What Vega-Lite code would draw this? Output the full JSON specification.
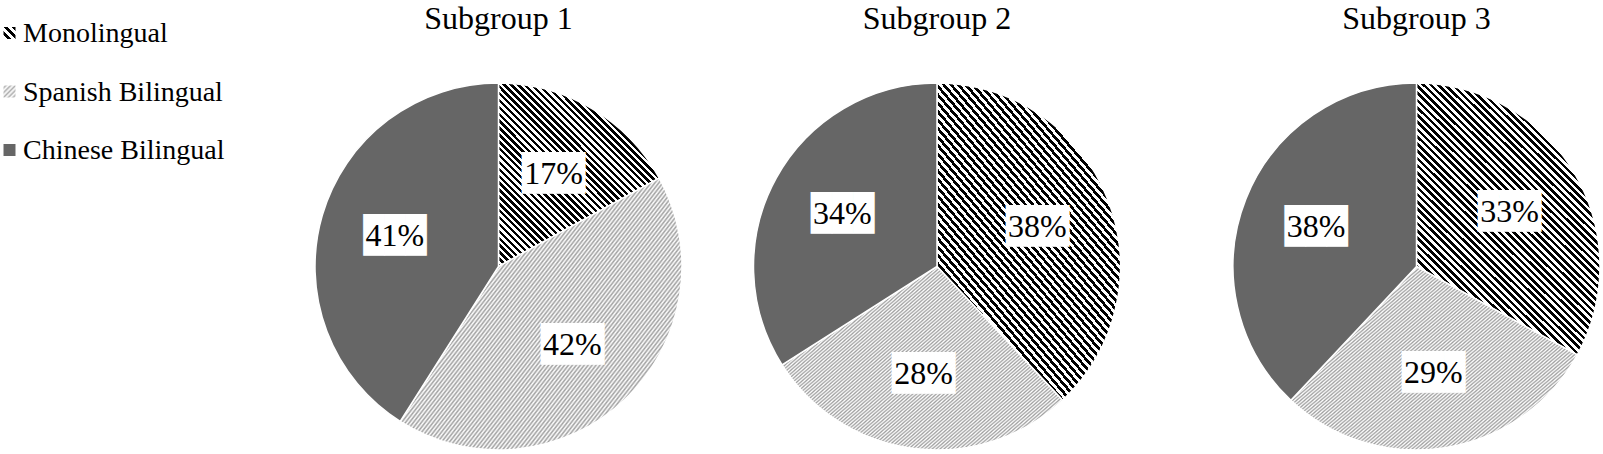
{
"$schema": "https://vega.github.io/schema/vega-lite/v6.json",
"padding": 0,
"background": "#ffffff",
"bounds": "flush",
"spacing": 334.5,
"params": [
{"name": "gM", "value": {"gradient": "linear", "x1": 0, "y1": 1, "x2": 0.77, "y2": -0.15, "stops": [
{"offset":0,"color":"#000"},
{"offset":0.008,"color":"#000"},{"offset":0.008,"color":"#fff"},{"offset":0.016,"color":"#fff"},{"offset":0.016,"color":"#000"},
{"offset":0.024,"color":"#000"},{"offset":0.024,"color":"#fff"},{"offset":0.032,"color":"#fff"},{"offset":0.032,"color":"#000"},
{"offset":0.04,"color":"#000"},{"offset":0.04,"color":"#fff"},{"offset":0.048,"color":"#fff"},{"offset":0.048,"color":"#000"},
{"offset":0.056,"color":"#000"},{"offset":0.056,"color":"#fff"},{"offset":0.064,"color":"#fff"},{"offset":0.064,"color":"#000"},
{"offset":0.072,"color":"#000"},{"offset":0.072,"color":"#fff"},{"offset":0.08,"color":"#fff"},{"offset":0.08,"color":"#000"},
{"offset":0.088,"color":"#000"},{"offset":0.088,"color":"#fff"},{"offset":0.096,"color":"#fff"},{"offset":0.096,"color":"#000"},
{"offset":0.104,"color":"#000"},{"offset":0.104,"color":"#fff"},{"offset":0.112,"color":"#fff"},{"offset":0.112,"color":"#000"},
{"offset":0.12,"color":"#000"},{"offset":0.12,"color":"#fff"},{"offset":0.128,"color":"#fff"},{"offset":0.128,"color":"#000"},
{"offset":0.136,"color":"#000"},{"offset":0.136,"color":"#fff"},{"offset":0.144,"color":"#fff"},{"offset":0.144,"color":"#000"},
{"offset":0.152,"color":"#000"},{"offset":0.152,"color":"#fff"},{"offset":0.16,"color":"#fff"},{"offset":0.16,"color":"#000"},
{"offset":0.168,"color":"#000"},{"offset":0.168,"color":"#fff"},{"offset":0.176,"color":"#fff"},{"offset":0.176,"color":"#000"},
{"offset":0.184,"color":"#000"},{"offset":0.184,"color":"#fff"},{"offset":0.192,"color":"#fff"},{"offset":0.192,"color":"#000"},
{"offset":0.2,"color":"#000"},{"offset":0.2,"color":"#fff"},{"offset":0.208,"color":"#fff"},{"offset":0.208,"color":"#000"},
{"offset":0.216,"color":"#000"},{"offset":0.216,"color":"#fff"},{"offset":0.224,"color":"#fff"},{"offset":0.224,"color":"#000"},
{"offset":0.232,"color":"#000"},{"offset":0.232,"color":"#fff"},{"offset":0.24,"color":"#fff"},{"offset":0.24,"color":"#000"},
{"offset":0.248,"color":"#000"},{"offset":0.248,"color":"#fff"},{"offset":0.256,"color":"#fff"},{"offset":0.256,"color":"#000"},
{"offset":0.264,"color":"#000"},{"offset":0.264,"color":"#fff"},{"offset":0.272,"color":"#fff"},{"offset":0.272,"color":"#000"},
{"offset":0.28,"color":"#000"},{"offset":0.28,"color":"#fff"},{"offset":0.288,"color":"#fff"},{"offset":0.288,"color":"#000"},
{"offset":0.296,"color":"#000"},{"offset":0.296,"color":"#fff"},{"offset":0.304,"color":"#fff"},{"offset":0.304,"color":"#000"},
{"offset":0.312,"color":"#000"},{"offset":0.312,"color":"#fff"},{"offset":0.32,"color":"#fff"},{"offset":0.32,"color":"#000"},
{"offset":0.328,"color":"#000"},{"offset":0.328,"color":"#fff"},{"offset":0.336,"color":"#fff"},{"offset":0.336,"color":"#000"},
{"offset":0.344,"color":"#000"},{"offset":0.344,"color":"#fff"},{"offset":0.352,"color":"#fff"},{"offset":0.352,"color":"#000"},
{"offset":0.36,"color":"#000"},{"offset":0.36,"color":"#fff"},{"offset":0.368,"color":"#fff"},{"offset":0.368,"color":"#000"},
{"offset":0.376,"color":"#000"},{"offset":0.376,"color":"#fff"},{"offset":0.384,"color":"#fff"},{"offset":0.384,"color":"#000"},
{"offset":0.392,"color":"#000"},{"offset":0.392,"color":"#fff"},{"offset":0.4,"color":"#fff"},{"offset":0.4,"color":"#000"},
{"offset":0.408,"color":"#000"},{"offset":0.408,"color":"#fff"},{"offset":0.416,"color":"#fff"},{"offset":0.416,"color":"#000"},
{"offset":0.424,"color":"#000"},{"offset":0.424,"color":"#fff"},{"offset":0.432,"color":"#fff"},{"offset":0.432,"color":"#000"},
{"offset":0.44,"color":"#000"},{"offset":0.44,"color":"#fff"},{"offset":0.448,"color":"#fff"},{"offset":0.448,"color":"#000"},
{"offset":0.456,"color":"#000"},{"offset":0.456,"color":"#fff"},{"offset":0.464,"color":"#fff"},{"offset":0.464,"color":"#000"},
{"offset":0.472,"color":"#000"},{"offset":0.472,"color":"#fff"},{"offset":0.48,"color":"#fff"},{"offset":0.48,"color":"#000"},
{"offset":0.488,"color":"#000"},{"offset":0.488,"color":"#fff"},{"offset":0.496,"color":"#fff"},{"offset":0.496,"color":"#000"},
{"offset":0.504,"color":"#000"},{"offset":0.504,"color":"#fff"},{"offset":0.512,"color":"#fff"},{"offset":0.512,"color":"#000"},
{"offset":0.52,"color":"#000"},{"offset":0.52,"color":"#fff"},{"offset":0.528,"color":"#fff"},{"offset":0.528,"color":"#000"},
{"offset":0.536,"color":"#000"},{"offset":0.536,"color":"#fff"},{"offset":0.544,"color":"#fff"},{"offset":0.544,"color":"#000"},
{"offset":0.552,"color":"#000"},{"offset":0.552,"color":"#fff"},{"offset":0.56,"color":"#fff"},{"offset":0.56,"color":"#000"},
{"offset":0.568,"color":"#000"},{"offset":0.568,"color":"#fff"},{"offset":0.576,"color":"#fff"},{"offset":0.576,"color":"#000"},
{"offset":0.584,"color":"#000"},{"offset":0.584,"color":"#fff"},{"offset":0.592,"color":"#fff"},{"offset":0.592,"color":"#000"},
{"offset":0.6,"color":"#000"},{"offset":0.6,"color":"#fff"},{"offset":0.608,"color":"#fff"},{"offset":0.608,"color":"#000"},
{"offset":0.616,"color":"#000"},{"offset":0.616,"color":"#fff"},{"offset":0.624,"color":"#fff"},{"offset":0.624,"color":"#000"},
{"offset":0.632,"color":"#000"},{"offset":0.632,"color":"#fff"},{"offset":0.64,"color":"#fff"},{"offset":0.64,"color":"#000"},
{"offset":0.648,"color":"#000"},{"offset":0.648,"color":"#fff"},{"offset":0.656,"color":"#fff"},{"offset":0.656,"color":"#000"},
{"offset":0.664,"color":"#000"},{"offset":0.664,"color":"#fff"},{"offset":0.672,"color":"#fff"},{"offset":0.672,"color":"#000"},
{"offset":0.68,"color":"#000"},{"offset":0.68,"color":"#fff"},{"offset":0.688,"color":"#fff"},{"offset":0.688,"color":"#000"},
{"offset":0.696,"color":"#000"},{"offset":0.696,"color":"#fff"},{"offset":0.704,"color":"#fff"},{"offset":0.704,"color":"#000"},
{"offset":0.712,"color":"#000"},{"offset":0.712,"color":"#fff"},{"offset":0.72,"color":"#fff"},{"offset":0.72,"color":"#000"},
{"offset":0.728,"color":"#000"},{"offset":0.728,"color":"#fff"},{"offset":0.736,"color":"#fff"},{"offset":0.736,"color":"#000"},
{"offset":0.744,"color":"#000"},{"offset":0.744,"color":"#fff"},{"offset":0.752,"color":"#fff"},{"offset":0.752,"color":"#000"},
{"offset":0.76,"color":"#000"},{"offset":0.76,"color":"#fff"},{"offset":0.768,"color":"#fff"},{"offset":0.768,"color":"#000"},
{"offset":0.776,"color":"#000"},{"offset":0.776,"color":"#fff"},{"offset":0.784,"color":"#fff"},{"offset":0.784,"color":"#000"},
{"offset":0.792,"color":"#000"},{"offset":0.792,"color":"#fff"},{"offset":0.8,"color":"#fff"},{"offset":0.8,"color":"#000"},
{"offset":0.808,"color":"#000"},{"offset":0.808,"color":"#fff"},{"offset":0.816,"color":"#fff"},{"offset":0.816,"color":"#000"},
{"offset":0.824,"color":"#000"},{"offset":0.824,"color":"#fff"},{"offset":0.832,"color":"#fff"},{"offset":0.832,"color":"#000"},
{"offset":0.84,"color":"#000"},{"offset":0.84,"color":"#fff"},{"offset":0.848,"color":"#fff"},{"offset":0.848,"color":"#000"},
{"offset":0.856,"color":"#000"},{"offset":0.856,"color":"#fff"},{"offset":0.864,"color":"#fff"},{"offset":0.864,"color":"#000"},
{"offset":0.872,"color":"#000"},{"offset":0.872,"color":"#fff"},{"offset":0.88,"color":"#fff"},{"offset":0.88,"color":"#000"},
{"offset":0.888,"color":"#000"},{"offset":0.888,"color":"#fff"},{"offset":0.896,"color":"#fff"},{"offset":0.896,"color":"#000"},
{"offset":0.904,"color":"#000"},{"offset":0.904,"color":"#fff"},{"offset":0.912,"color":"#fff"},{"offset":0.912,"color":"#000"},
{"offset":0.92,"color":"#000"},{"offset":0.92,"color":"#fff"},{"offset":0.928,"color":"#fff"},{"offset":0.928,"color":"#000"},
{"offset":0.936,"color":"#000"},{"offset":0.936,"color":"#fff"},{"offset":0.944,"color":"#fff"},{"offset":0.944,"color":"#000"},
{"offset":0.952,"color":"#000"},{"offset":0.952,"color":"#fff"},{"offset":0.96,"color":"#fff"},{"offset":0.96,"color":"#000"},
{"offset":0.968,"color":"#000"},{"offset":0.968,"color":"#fff"},{"offset":0.976,"color":"#fff"},{"offset":0.976,"color":"#000"},
{"offset":0.984,"color":"#000"},{"offset":0.984,"color":"#fff"},{"offset":0.992,"color":"#fff"},{"offset":0.992,"color":"#000"},
{"offset":1,"color":"#000"}
]}},
{"name": "gM1", "value": {"gradient": "linear", "x1": 0, "y1": 1, "x2": 0.93, "y2": -0.06, "stops": [
{"offset":0,"color":"#000"},
{"offset":0.01,"color":"#000"},{"offset":0.01,"color":"#fff"},{"offset":0.02,"color":"#fff"},{"offset":0.02,"color":"#000"},
{"offset":0.03,"color":"#000"},{"offset":0.03,"color":"#fff"},{"offset":0.04,"color":"#fff"},{"offset":0.04,"color":"#000"},
{"offset":0.05,"color":"#000"},{"offset":0.05,"color":"#fff"},{"offset":0.06,"color":"#fff"},{"offset":0.06,"color":"#000"},
{"offset":0.07,"color":"#000"},{"offset":0.07,"color":"#fff"},{"offset":0.08,"color":"#fff"},{"offset":0.08,"color":"#000"},
{"offset":0.09,"color":"#000"},{"offset":0.09,"color":"#fff"},{"offset":0.1,"color":"#fff"},{"offset":0.1,"color":"#000"},
{"offset":0.11,"color":"#000"},{"offset":0.11,"color":"#fff"},{"offset":0.12,"color":"#fff"},{"offset":0.12,"color":"#000"},
{"offset":0.13,"color":"#000"},{"offset":0.13,"color":"#fff"},{"offset":0.14,"color":"#fff"},{"offset":0.14,"color":"#000"},
{"offset":0.15,"color":"#000"},{"offset":0.15,"color":"#fff"},{"offset":0.16,"color":"#fff"},{"offset":0.16,"color":"#000"},
{"offset":0.17,"color":"#000"},{"offset":0.17,"color":"#fff"},{"offset":0.18,"color":"#fff"},{"offset":0.18,"color":"#000"},
{"offset":0.19,"color":"#000"},{"offset":0.19,"color":"#fff"},{"offset":0.2,"color":"#fff"},{"offset":0.2,"color":"#000"},
{"offset":0.21,"color":"#000"},{"offset":0.21,"color":"#fff"},{"offset":0.22,"color":"#fff"},{"offset":0.22,"color":"#000"},
{"offset":0.23,"color":"#000"},{"offset":0.23,"color":"#fff"},{"offset":0.24,"color":"#fff"},{"offset":0.24,"color":"#000"},
{"offset":0.25,"color":"#000"},{"offset":0.25,"color":"#fff"},{"offset":0.26,"color":"#fff"},{"offset":0.26,"color":"#000"},
{"offset":0.27,"color":"#000"},{"offset":0.27,"color":"#fff"},{"offset":0.28,"color":"#fff"},{"offset":0.28,"color":"#000"},
{"offset":0.29,"color":"#000"},{"offset":0.29,"color":"#fff"},{"offset":0.3,"color":"#fff"},{"offset":0.3,"color":"#000"},
{"offset":0.31,"color":"#000"},{"offset":0.31,"color":"#fff"},{"offset":0.32,"color":"#fff"},{"offset":0.32,"color":"#000"},
{"offset":0.33,"color":"#000"},{"offset":0.33,"color":"#fff"},{"offset":0.34,"color":"#fff"},{"offset":0.34,"color":"#000"},
{"offset":0.35,"color":"#000"},{"offset":0.35,"color":"#fff"},{"offset":0.36,"color":"#fff"},{"offset":0.36,"color":"#000"},
{"offset":0.37,"color":"#000"},{"offset":0.37,"color":"#fff"},{"offset":0.38,"color":"#fff"},{"offset":0.38,"color":"#000"},
{"offset":0.39,"color":"#000"},{"offset":0.39,"color":"#fff"},{"offset":0.4,"color":"#fff"},{"offset":0.4,"color":"#000"},
{"offset":0.41,"color":"#000"},{"offset":0.41,"color":"#fff"},{"offset":0.42,"color":"#fff"},{"offset":0.42,"color":"#000"},
{"offset":0.43,"color":"#000"},{"offset":0.43,"color":"#fff"},{"offset":0.44,"color":"#fff"},{"offset":0.44,"color":"#000"},
{"offset":0.45,"color":"#000"},{"offset":0.45,"color":"#fff"},{"offset":0.46,"color":"#fff"},{"offset":0.46,"color":"#000"},
{"offset":0.47,"color":"#000"},{"offset":0.47,"color":"#fff"},{"offset":0.48,"color":"#fff"},{"offset":0.48,"color":"#000"},
{"offset":0.49,"color":"#000"},{"offset":0.49,"color":"#fff"},{"offset":0.5,"color":"#fff"},{"offset":0.5,"color":"#000"},
{"offset":0.51,"color":"#000"},{"offset":0.51,"color":"#fff"},{"offset":0.52,"color":"#fff"},{"offset":0.52,"color":"#000"},
{"offset":0.53,"color":"#000"},{"offset":0.53,"color":"#fff"},{"offset":0.54,"color":"#fff"},{"offset":0.54,"color":"#000"},
{"offset":0.55,"color":"#000"},{"offset":0.55,"color":"#fff"},{"offset":0.56,"color":"#fff"},{"offset":0.56,"color":"#000"},
{"offset":0.57,"color":"#000"},{"offset":0.57,"color":"#fff"},{"offset":0.58,"color":"#fff"},{"offset":0.58,"color":"#000"},
{"offset":0.59,"color":"#000"},{"offset":0.59,"color":"#fff"},{"offset":0.6,"color":"#fff"},{"offset":0.6,"color":"#000"},
{"offset":0.61,"color":"#000"},{"offset":0.61,"color":"#fff"},{"offset":0.62,"color":"#fff"},{"offset":0.62,"color":"#000"},
{"offset":0.63,"color":"#000"},{"offset":0.63,"color":"#fff"},{"offset":0.64,"color":"#fff"},{"offset":0.64,"color":"#000"},
{"offset":0.65,"color":"#000"},{"offset":0.65,"color":"#fff"},{"offset":0.66,"color":"#fff"},{"offset":0.66,"color":"#000"},
{"offset":0.67,"color":"#000"},{"offset":0.67,"color":"#fff"},{"offset":0.68,"color":"#fff"},{"offset":0.68,"color":"#000"},
{"offset":0.69,"color":"#000"},{"offset":0.69,"color":"#fff"},{"offset":0.7,"color":"#fff"},{"offset":0.7,"color":"#000"},
{"offset":0.71,"color":"#000"},{"offset":0.71,"color":"#fff"},{"offset":0.72,"color":"#fff"},{"offset":0.72,"color":"#000"},
{"offset":0.73,"color":"#000"},{"offset":0.73,"color":"#fff"},{"offset":0.74,"color":"#fff"},{"offset":0.74,"color":"#000"},
{"offset":0.75,"color":"#000"},{"offset":0.75,"color":"#fff"},{"offset":0.76,"color":"#fff"},{"offset":0.76,"color":"#000"},
{"offset":0.77,"color":"#000"},{"offset":0.77,"color":"#fff"},{"offset":0.78,"color":"#fff"},{"offset":0.78,"color":"#000"},
{"offset":0.79,"color":"#000"},{"offset":0.79,"color":"#fff"},{"offset":0.8,"color":"#fff"},{"offset":0.8,"color":"#000"},
{"offset":0.81,"color":"#000"},{"offset":0.81,"color":"#fff"},{"offset":0.82,"color":"#fff"},{"offset":0.82,"color":"#000"},
{"offset":0.83,"color":"#000"},{"offset":0.83,"color":"#fff"},{"offset":0.84,"color":"#fff"},{"offset":0.84,"color":"#000"},
{"offset":0.85,"color":"#000"},{"offset":0.85,"color":"#fff"},{"offset":0.86,"color":"#fff"},{"offset":0.86,"color":"#000"},
{"offset":0.87,"color":"#000"},{"offset":0.87,"color":"#fff"},{"offset":0.88,"color":"#fff"},{"offset":0.88,"color":"#000"},
{"offset":0.89,"color":"#000"},{"offset":0.89,"color":"#fff"},{"offset":0.9,"color":"#fff"},{"offset":0.9,"color":"#000"},
{"offset":0.91,"color":"#000"},{"offset":0.91,"color":"#fff"},{"offset":0.92,"color":"#fff"},{"offset":0.92,"color":"#000"},
{"offset":0.93,"color":"#000"},{"offset":0.93,"color":"#fff"},{"offset":0.94,"color":"#fff"},{"offset":0.94,"color":"#000"},
{"offset":0.95,"color":"#000"},{"offset":0.95,"color":"#fff"},{"offset":0.96,"color":"#fff"},{"offset":0.96,"color":"#000"},
{"offset":0.97,"color":"#000"},{"offset":0.97,"color":"#fff"},{"offset":0.98,"color":"#fff"},{"offset":0.98,"color":"#000"},
{"offset":0.99,"color":"#000"},{"offset":0.99,"color":"#fff"},
{"offset":1,"color":"#fff"}
]}},
{"name": "gS", "value": {"gradient": "linear", "x1": 0, "y1": 0, "x2": 1.12, "y2": 0.84, "stops": [
{"offset":0,"color":"#fff"},{"offset":0.004,"color":"#a0a0a0"},{"offset":0.008,"color":"#fff"},{"offset":0.012,"color":"#a0a0a0"},{"offset":0.016,"color":"#fff"},{"offset":0.02,"color":"#a0a0a0"},{"offset":0.024,"color":"#fff"},{"offset":0.028,"color":"#a0a0a0"},{"offset":0.032,"color":"#fff"},{"offset":0.036,"color":"#a0a0a0"},
{"offset":0.04,"color":"#fff"},{"offset":0.044,"color":"#a0a0a0"},{"offset":0.048,"color":"#fff"},{"offset":0.052,"color":"#a0a0a0"},{"offset":0.056,"color":"#fff"},{"offset":0.06,"color":"#a0a0a0"},{"offset":0.064,"color":"#fff"},{"offset":0.068,"color":"#a0a0a0"},{"offset":0.072,"color":"#fff"},{"offset":0.076,"color":"#a0a0a0"},
{"offset":0.08,"color":"#fff"},{"offset":0.084,"color":"#a0a0a0"},{"offset":0.088,"color":"#fff"},{"offset":0.092,"color":"#a0a0a0"},{"offset":0.096,"color":"#fff"},{"offset":0.1,"color":"#a0a0a0"},{"offset":0.104,"color":"#fff"},{"offset":0.108,"color":"#a0a0a0"},{"offset":0.112,"color":"#fff"},{"offset":0.116,"color":"#a0a0a0"},
{"offset":0.12,"color":"#fff"},{"offset":0.124,"color":"#a0a0a0"},{"offset":0.128,"color":"#fff"},{"offset":0.132,"color":"#a0a0a0"},{"offset":0.136,"color":"#fff"},{"offset":0.14,"color":"#a0a0a0"},{"offset":0.144,"color":"#fff"},{"offset":0.148,"color":"#a0a0a0"},{"offset":0.152,"color":"#fff"},{"offset":0.156,"color":"#a0a0a0"},
{"offset":0.16,"color":"#fff"},{"offset":0.164,"color":"#a0a0a0"},{"offset":0.168,"color":"#fff"},{"offset":0.172,"color":"#a0a0a0"},{"offset":0.176,"color":"#fff"},{"offset":0.18,"color":"#a0a0a0"},{"offset":0.184,"color":"#fff"},{"offset":0.188,"color":"#a0a0a0"},{"offset":0.192,"color":"#fff"},{"offset":0.196,"color":"#a0a0a0"},
{"offset":0.2,"color":"#fff"},{"offset":0.204,"color":"#a0a0a0"},{"offset":0.208,"color":"#fff"},{"offset":0.212,"color":"#a0a0a0"},{"offset":0.216,"color":"#fff"},{"offset":0.22,"color":"#a0a0a0"},{"offset":0.224,"color":"#fff"},{"offset":0.228,"color":"#a0a0a0"},{"offset":0.232,"color":"#fff"},{"offset":0.236,"color":"#a0a0a0"},
{"offset":0.24,"color":"#fff"},{"offset":0.244,"color":"#a0a0a0"},{"offset":0.248,"color":"#fff"},{"offset":0.252,"color":"#a0a0a0"},{"offset":0.256,"color":"#fff"},{"offset":0.26,"color":"#a0a0a0"},{"offset":0.264,"color":"#fff"},{"offset":0.268,"color":"#a0a0a0"},{"offset":0.272,"color":"#fff"},{"offset":0.276,"color":"#a0a0a0"},
{"offset":0.28,"color":"#fff"},{"offset":0.284,"color":"#a0a0a0"},{"offset":0.288,"color":"#fff"},{"offset":0.292,"color":"#a0a0a0"},{"offset":0.296,"color":"#fff"},{"offset":0.3,"color":"#a0a0a0"},{"offset":0.304,"color":"#fff"},{"offset":0.308,"color":"#a0a0a0"},{"offset":0.312,"color":"#fff"},{"offset":0.316,"color":"#a0a0a0"},
{"offset":0.32,"color":"#fff"},{"offset":0.324,"color":"#a0a0a0"},{"offset":0.328,"color":"#fff"},{"offset":0.332,"color":"#a0a0a0"},{"offset":0.336,"color":"#fff"},{"offset":0.34,"color":"#a0a0a0"},{"offset":0.344,"color":"#fff"},{"offset":0.348,"color":"#a0a0a0"},{"offset":0.352,"color":"#fff"},{"offset":0.356,"color":"#a0a0a0"},
{"offset":0.36,"color":"#fff"},{"offset":0.364,"color":"#a0a0a0"},{"offset":0.368,"color":"#fff"},{"offset":0.372,"color":"#a0a0a0"},{"offset":0.376,"color":"#fff"},{"offset":0.38,"color":"#a0a0a0"},{"offset":0.384,"color":"#fff"},{"offset":0.388,"color":"#a0a0a0"},{"offset":0.392,"color":"#fff"},{"offset":0.396,"color":"#a0a0a0"},
{"offset":0.4,"color":"#fff"},{"offset":0.404,"color":"#a0a0a0"},{"offset":0.408,"color":"#fff"},{"offset":0.412,"color":"#a0a0a0"},{"offset":0.416,"color":"#fff"},{"offset":0.42,"color":"#a0a0a0"},{"offset":0.424,"color":"#fff"},{"offset":0.428,"color":"#a0a0a0"},{"offset":0.432,"color":"#fff"},{"offset":0.436,"color":"#a0a0a0"},
{"offset":0.44,"color":"#fff"},{"offset":0.444,"color":"#a0a0a0"},{"offset":0.448,"color":"#fff"},{"offset":0.452,"color":"#a0a0a0"},{"offset":0.456,"color":"#fff"},{"offset":0.46,"color":"#a0a0a0"},{"offset":0.464,"color":"#fff"},{"offset":0.468,"color":"#a0a0a0"},{"offset":0.472,"color":"#fff"},{"offset":0.476,"color":"#a0a0a0"},
{"offset":0.48,"color":"#fff"},{"offset":0.484,"color":"#a0a0a0"},{"offset":0.488,"color":"#fff"},{"offset":0.492,"color":"#a0a0a0"},{"offset":0.496,"color":"#fff"},{"offset":0.5,"color":"#a0a0a0"},{"offset":0.504,"color":"#fff"},{"offset":0.508,"color":"#a0a0a0"},{"offset":0.512,"color":"#fff"},{"offset":0.516,"color":"#a0a0a0"},
{"offset":0.52,"color":"#fff"},{"offset":0.524,"color":"#a0a0a0"},{"offset":0.528,"color":"#fff"},{"offset":0.532,"color":"#a0a0a0"},{"offset":0.536,"color":"#fff"},{"offset":0.54,"color":"#a0a0a0"},{"offset":0.544,"color":"#fff"},{"offset":0.548,"color":"#a0a0a0"},{"offset":0.552,"color":"#fff"},{"offset":0.556,"color":"#a0a0a0"},
{"offset":0.56,"color":"#fff"},{"offset":0.564,"color":"#a0a0a0"},{"offset":0.568,"color":"#fff"},{"offset":0.572,"color":"#a0a0a0"},{"offset":0.576,"color":"#fff"},{"offset":0.58,"color":"#a0a0a0"},{"offset":0.584,"color":"#fff"},{"offset":0.588,"color":"#a0a0a0"},{"offset":0.592,"color":"#fff"},{"offset":0.596,"color":"#a0a0a0"},
{"offset":0.6,"color":"#fff"},{"offset":0.604,"color":"#a0a0a0"},{"offset":0.608,"color":"#fff"},{"offset":0.612,"color":"#a0a0a0"},{"offset":0.616,"color":"#fff"},{"offset":0.62,"color":"#a0a0a0"},{"offset":0.624,"color":"#fff"},{"offset":0.628,"color":"#a0a0a0"},{"offset":0.632,"color":"#fff"},{"offset":0.636,"color":"#a0a0a0"},
{"offset":0.64,"color":"#fff"},{"offset":0.644,"color":"#a0a0a0"},{"offset":0.648,"color":"#fff"},{"offset":0.652,"color":"#a0a0a0"},{"offset":0.656,"color":"#fff"},{"offset":0.66,"color":"#a0a0a0"},{"offset":0.664,"color":"#fff"},{"offset":0.668,"color":"#a0a0a0"},{"offset":0.672,"color":"#fff"},{"offset":0.676,"color":"#a0a0a0"},
{"offset":0.68,"color":"#fff"},{"offset":0.684,"color":"#a0a0a0"},{"offset":0.688,"color":"#fff"},{"offset":0.692,"color":"#a0a0a0"},{"offset":0.696,"color":"#fff"},{"offset":0.7,"color":"#a0a0a0"},{"offset":0.704,"color":"#fff"},{"offset":0.708,"color":"#a0a0a0"},{"offset":0.712,"color":"#fff"},{"offset":0.716,"color":"#a0a0a0"},
{"offset":0.72,"color":"#fff"},{"offset":0.724,"color":"#a0a0a0"},{"offset":0.728,"color":"#fff"},{"offset":0.732,"color":"#a0a0a0"},{"offset":0.736,"color":"#fff"},{"offset":0.74,"color":"#a0a0a0"},{"offset":0.744,"color":"#fff"},{"offset":0.748,"color":"#a0a0a0"},{"offset":0.752,"color":"#fff"},{"offset":0.756,"color":"#a0a0a0"},
{"offset":0.76,"color":"#fff"},{"offset":0.764,"color":"#a0a0a0"},{"offset":0.768,"color":"#fff"},{"offset":0.772,"color":"#a0a0a0"},{"offset":0.776,"color":"#fff"},{"offset":0.78,"color":"#a0a0a0"},{"offset":0.784,"color":"#fff"},{"offset":0.788,"color":"#a0a0a0"},{"offset":0.792,"color":"#fff"},{"offset":0.796,"color":"#a0a0a0"},
{"offset":0.8,"color":"#fff"},{"offset":0.804,"color":"#a0a0a0"},{"offset":0.808,"color":"#fff"},{"offset":0.812,"color":"#a0a0a0"},{"offset":0.816,"color":"#fff"},{"offset":0.82,"color":"#a0a0a0"},{"offset":0.824,"color":"#fff"},{"offset":0.828,"color":"#a0a0a0"},{"offset":0.832,"color":"#fff"},{"offset":0.836,"color":"#a0a0a0"},
{"offset":0.84,"color":"#fff"},{"offset":0.844,"color":"#a0a0a0"},{"offset":0.848,"color":"#fff"},{"offset":0.852,"color":"#a0a0a0"},{"offset":0.856,"color":"#fff"},{"offset":0.86,"color":"#a0a0a0"},{"offset":0.864,"color":"#fff"},{"offset":0.868,"color":"#a0a0a0"},{"offset":0.872,"color":"#fff"},{"offset":0.876,"color":"#a0a0a0"},
{"offset":0.88,"color":"#fff"},{"offset":0.884,"color":"#a0a0a0"},{"offset":0.888,"color":"#fff"},{"offset":0.892,"color":"#a0a0a0"},{"offset":0.896,"color":"#fff"},{"offset":0.9,"color":"#a0a0a0"},{"offset":0.904,"color":"#fff"},{"offset":0.908,"color":"#a0a0a0"},{"offset":0.912,"color":"#fff"},{"offset":0.916,"color":"#a0a0a0"},
{"offset":0.92,"color":"#fff"},{"offset":0.924,"color":"#a0a0a0"},{"offset":0.928,"color":"#fff"},{"offset":0.932,"color":"#a0a0a0"},{"offset":0.936,"color":"#fff"},{"offset":0.94,"color":"#a0a0a0"},{"offset":0.944,"color":"#fff"},{"offset":0.948,"color":"#a0a0a0"},{"offset":0.952,"color":"#fff"},{"offset":0.956,"color":"#a0a0a0"},
{"offset":0.96,"color":"#fff"},{"offset":0.964,"color":"#a0a0a0"},{"offset":0.968,"color":"#fff"},{"offset":0.972,"color":"#a0a0a0"},{"offset":0.976,"color":"#fff"},{"offset":0.98,"color":"#a0a0a0"},{"offset":0.984,"color":"#fff"},{"offset":0.988,"color":"#a0a0a0"},{"offset":0.992,"color":"#fff"},{"offset":0.996,"color":"#a0a0a0"},
{"offset":1,"color":"#fff"}
]}},
{"name": "gML", "value": {"gradient": "linear", "x1": 0, "y1": 1, "x2": 1, "y2": 0, "stops": [
{"offset":0,"color":"#fff"},{"offset":0.1667,"color":"#fff"},{"offset":0.1667,"color":"#000"},{"offset":0.3333,"color":"#000"},{"offset":0.3333,"color":"#fff"},{"offset":0.5,"color":"#fff"},{"offset":0.5,"color":"#000"},{"offset":0.6667,"color":"#000"},{"offset":0.6667,"color":"#fff"},{"offset":0.8333,"color":"#fff"},{"offset":0.8333,"color":"#000"},{"offset":1,"color":"#000"}
]}},
{"name": "gSL", "value": {"gradient": "linear", "x1": 0, "y1": 0, "x2": 1, "y2": 1, "stops": [
{"offset":0,"color":"#fff"},{"offset":0.1,"color":"#b0b0b0"},{"offset":0.2,"color":"#fff"},{"offset":0.3,"color":"#b0b0b0"},{"offset":0.4,"color":"#fff"},{"offset":0.5,"color":"#b0b0b0"},{"offset":0.6,"color":"#fff"},{"offset":0.7,"color":"#b0b0b0"},{"offset":0.8,"color":"#fff"},{"offset":0.9,"color":"#b0b0b0"},{"offset":1,"color":"#fff"}
]}}
],
"data": {"values": [
{"group": "Subgroup 1", "lang": "Monolingual", "k": 1, "pct": 17},
{"group": "Subgroup 1", "lang": "Spanish Bilingual", "k": 2, "pct": 42},
{"group": "Subgroup 1", "lang": "Chinese Bilingual", "k": 3, "pct": 41},
{"group": "Subgroup 2", "lang": "Monolingual", "k": 1, "pct": 38},
{"group": "Subgroup 2", "lang": "Spanish Bilingual", "k": 2, "pct": 28},
{"group": "Subgroup 2", "lang": "Chinese Bilingual", "k": 3, "pct": 34},
{"group": "Subgroup 3", "lang": "Monolingual", "k": 1, "pct": 33},
{"group": "Subgroup 3", "lang": "Spanish Bilingual", "k": 2, "pct": 29},
{"group": "Subgroup 3", "lang": "Chinese Bilingual", "k": 3, "pct": 38}
]},
"config": {
"view": {"stroke": null},
"title": {"font": "Liberation Serif", "fontSize": 32, "fontWeight": "normal", "color": "#000000", "anchor": "middle", "frame": "group", "offset": -36}
},
"hconcat": [
{
"width": 19, "height": 183,
"transform": [{"filter": "datum.group === 'Subgroup 1'"}],
"encoding": {"y": {"field": "lang", "type": "nominal", "sort": ["Monolingual", "Spanish Bilingual", "Chinese Bilingual"], "scale": {"type": "point", "padding": 0.564}, "axis": null}},
"layer": [
{"mark": {"type": "point", "shape": "square", "size": 144, "filled": true, "opacity": 1, "strokeWidth": 0, "fill": {"expr": "datum.lang === 'Monolingual' ? gML : datum.lang === 'Spanish Bilingual' ? gSL : '#666666'"}}},
{"mark": {"type": "text", "align": "left", "baseline": "alphabetic", "dx": 13.5, "dy": 9, "font": "Liberation Serif", "fontSize": 28, "fill": "#000000"}, "encoding": {"text": {"field": "lang"}}}
]
},
{
"hconcat": [
{
"width": 290, "height": 454,
"title": {"text": "Subgroup 1"},
"transform": [{"filter": "datum.group === 'Subgroup 1'"}, {"calculate": "datum.pct + '%'", "as": "label"}],
"encoding": {"theta": {"field": "pct", "type": "quantitative", "stack": true}, "order": {"field": "k", "type": "quantitative"}, "detail": {"field": "lang"}},
"layer": [
{"mark": {"type": "arc", "outerRadius": 183.5, "yOffset": 39.5, "stroke": "#ffffff", "strokeWidth": 1.5, "fill": {"expr": "datum.lang === 'Monolingual' ? gM1 : datum.lang === 'Spanish Bilingual' ? gS : '#666666'"}}},
{"mark": {"type": "text", "radius": 108, "yOffset": 39.5, "text": "███", "font": "DejaVu Sans Mono", "fontSize": 35, "fill": "#ffffff", "align": "center", "baseline": "middle"}},
{"mark": {"type": "text", "radius": 108, "yOffset": 39.5, "font": "Liberation Serif", "fontSize": 32, "fill": "#000000", "align": "center", "baseline": "middle"}, "encoding": {"text": {"field": "label"}}}
]
},
{
"width": 587, "height": 454,
"title": {"text": "Subgroup 2"},
"transform": [{"filter": "datum.group === 'Subgroup 2'"}, {"calculate": "datum.pct + '%'", "as": "label"}],
"encoding": {"theta": {"field": "pct", "type": "quantitative", "stack": true}, "order": {"field": "k", "type": "quantitative"}, "detail": {"field": "lang"}},
"layer": [
{"mark": {"type": "arc", "outerRadius": 183.5, "yOffset": 39.5, "stroke": "#ffffff", "strokeWidth": 1.5, "fill": {"expr": "datum.lang === 'Monolingual' ? gM : datum.lang === 'Spanish Bilingual' ? gS : '#666666'"}}},
{"mark": {"type": "text", "radius": 108, "yOffset": 39.5, "text": "███", "font": "DejaVu Sans Mono", "fontSize": 35, "fill": "#ffffff", "align": "center", "baseline": "middle"}},
{"mark": {"type": "text", "radius": 108, "yOffset": 39.5, "font": "Liberation Serif", "fontSize": 32, "fill": "#000000", "align": "center", "baseline": "middle"}, "encoding": {"text": {"field": "label"}}}
]
},
{
"width": 372, "height": 454,
"title": {"text": "Subgroup 3"},
"transform": [{"filter": "datum.group === 'Subgroup 3'"}, {"calculate": "datum.pct + '%'", "as": "label"}],
"encoding": {"theta": {"field": "pct", "type": "quantitative", "stack": true}, "order": {"field": "k", "type": "quantitative"}, "detail": {"field": "lang"}},
"layer": [
{"mark": {"type": "arc", "outerRadius": 183.5, "yOffset": 39.5, "stroke": "#ffffff", "strokeWidth": 1.5, "fill": {"expr": "datum.lang === 'Monolingual' ? gM : datum.lang === 'Spanish Bilingual' ? gS : '#666666'"}}},
{"mark": {"type": "text", "radius": 108, "yOffset": 39.5, "text": "███", "font": "DejaVu Sans Mono", "fontSize": 35, "fill": "#ffffff", "align": "center", "baseline": "middle"}},
{"mark": {"type": "text", "radius": 108, "yOffset": 39.5, "font": "Liberation Serif", "fontSize": 32, "fill": "#000000", "align": "center", "baseline": "middle"}, "encoding": {"text": {"field": "label"}}}
]
}
],
"spacing": 0,
"bounds": "flush"
}
]
}
